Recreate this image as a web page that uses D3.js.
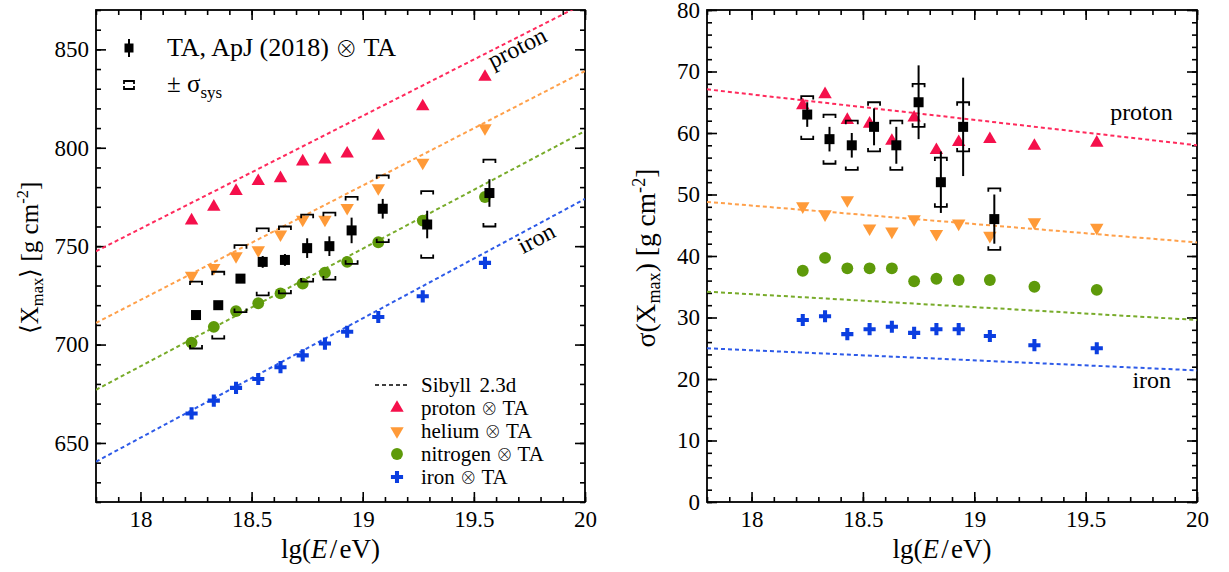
<!DOCTYPE html>
<html lang="en">
<head>
<meta charset="utf-8" />
<title>Xmax moments vs energy</title>
<script src="https://cdn.jsdelivr.net/npm/d3@7"></script>
<style>
body{ margin:0; background:#fff; }
</style>
</head>
<body>
<svg id="chart" width="1229" height="572"></svg>
<script>
// energy bins (simulated sets and TA data are slightly shifted)
const lgE = [18.23, 18.33, 18.43, 18.53, 18.63, 18.73, 18.83, 18.93, 19.07, 19.27, 19.55];
const lgE_TA = [18.25, 18.35, 18.45, 18.55, 18.65, 18.75, 18.85, 18.95, 19.09, 19.29, 19.57];

// <Xmax>
const protonMean   = [763, 770, 778, 783, 784.5, 793, 794, 797, 806, 821, 836];
const heliumMean   = [735, 739, 745, 748, 756, 763.5, 763.5, 769.5, 779.5, 792.5, 810];
const nitrogenMean = [701, 709, 717, 721, 726, 731, 736.5, 742, 752, 763, 775];
const ironMean     = [665, 671.5, 678, 682.5, 688.5, 694.5, 700.5, 706.5, 714, 724.5, 741.5];
const taMean       = [715, 720, 733.5, 742, 743, 749, 750, 758, 769, 761, 777];
const taMeanStat   = [2, 2, 2, 3, 3, 5, 5, 6.5, 5, 7, 7];
const taMeanSys    = [17, 17, 17, 17, 17, 17, 17, 17, 17, 17, 17];

// sigma(Xmax)
const protonSigma   = [64.5, 66.3, 62.1, 61.5, 58.7, 62.5, 57.2, 58.5, 59.0, 57.9, 58.4];
const heliumSigma   = [48.1, 46.8, 49.1, 44.5, 44.0, 46.0, 43.6, 45.3, 43.3, 45.5, 44.6];
const nitrogenSigma = [37.6, 39.7, 38.0, 38.0, 38.0, 35.9, 36.3, 36.1, 36.1, 35.0, 34.5];
const ironSigma     = [29.6, 30.2, 27.3, 28.1, 28.5, 27.5, 28.1, 28.1, 27.0, 25.5, 25.0];
const taSigma       = [63, 59, 58, 61, 58, 65, 52, 61, 46];
const taSigmaStat   = [2, 2, 2, 3, 3, 6, 5, 8, 4];
const taSigmaSysUp  = [3, 4, 4, 4, 4, 3, 4, 4, 5];
const taSigmaSysLo  = [4, 4, 4, 4, 4, 4, 4, 4, 5];

// Sibyll 2.3d expectations at the edges of the energy range
const modelE = [17.8, 20];
const sibyllMean  = {proton: [747.4, 873.5], helium: [711, 839], nitrogen: [677, 808.5], iron: [640.5, 774]};
const sibyllSigma = {proton: [67.1, 58.0], helium: [48.8, 42.2], nitrogen: [34.2, 29.6], iron: [25.0, 21.4]};

const primaries = ['proton', 'helium', 'nitrogen', 'iron'];
const colors = {proton: '#f5104b', helium: '#ff9a38', nitrogen: '#5e9a0a', iron: '#0b3ee0'};
const lineColors = {proton: '#ff2a5c', helium: '#ffa04a', nitrogen: '#78ab2a', iron: '#2d5ae8'};

const symbols = {
  proton:   d3.symbol().type(d3.symbolTriangle).size(78)(),
  helium:   d3.symbol().type(d3.symbolTriangle).size(78)(),
  nitrogen: d3.symbol().type(d3.symbolCircle).size(110)(),
  iron:     d3.symbol().type(d3.symbolCross).size(82)()
};
const rot = {proton: 0, helium: 180, nitrogen: 0, iron: 0};

const svg = d3.select('#chart');

function drawPanel(opt){
  const x = d3.scaleLinear().domain([17.8, 20]).range([opt.left, opt.right]);
  const y = d3.scaleLinear().domain(opt.yDomain).range([opt.bottom, opt.top]);
  const g = svg.append('g');

  g.append('clipPath').attr('id', opt.id + '-clip')
    .append('rect')
      .attr('x', opt.left).attr('y', opt.top)
      .attr('width', opt.right - opt.left).attr('height', opt.bottom - opt.top);

  // axes: majors with labels, minors without, mirrored on top / right
  const xMajor = [18, 18.5, 19, 19.5, 20];
  const xMinor = d3.range(17.8, 20.001, 0.1).map(v => +v.toFixed(1));
  const yMinor = d3.range(opt.yDomain[0], opt.yDomain[1] + 0.001, opt.yMinorStep);

  const fmt = d => d3.format('~g')(d);
  g.append('g').attr('transform', `translate(0,${opt.bottom})`)
    .call(d3.axisBottom(x).tickValues(xMajor).tickSize(-10).tickPadding(9).tickFormat(fmt));
  g.append('g').attr('transform', `translate(0,${opt.bottom})`)
    .call(d3.axisBottom(x).tickValues(xMinor).tickSize(-5).tickFormat(''));
  g.append('g').attr('transform', `translate(0,${opt.top})`)
    .call(d3.axisTop(x).tickValues(xMajor).tickSize(-10).tickFormat(''));
  g.append('g').attr('transform', `translate(0,${opt.top})`)
    .call(d3.axisTop(x).tickValues(xMinor).tickSize(-5).tickFormat(''));

  g.append('g').attr('transform', `translate(${opt.left},0)`)
    .call(d3.axisLeft(y).tickValues(opt.yMajor).tickSizeInner(-10).tickPadding(7).tickFormat(fmt));
  g.append('g').attr('transform', `translate(${opt.left},0)`)
    .call(d3.axisLeft(y).tickValues(yMinor).tickSize(-5).tickFormat(''));
  g.append('g').attr('transform', `translate(${opt.right},0)`)
    .call(d3.axisRight(y).tickValues(opt.yMajor).tickSize(-10).tickFormat(''));
  g.append('g').attr('transform', `translate(${opt.right},0)`)
    .call(d3.axisRight(y).tickValues(yMinor).tickSize(-5).tickFormat(''));

  g.selectAll('.domain').remove();
  g.selectAll('.tick line').attr('stroke', '#000').attr('stroke-width', 1.6);
  g.selectAll('.tick text').attr('font-size', 23);

  g.append('rect')
    .attr('x', opt.left).attr('y', opt.top)
    .attr('width', opt.right - opt.left).attr('height', opt.bottom - opt.top)
    .attr('fill', 'none').attr('stroke', '#000').attr('stroke-width', 1.8);

  // Sibyll dashed lines
  const plot = g.append('g').attr('clip-path', `url(#${opt.id}-clip)`);
  const line = d3.line().x(d => x(d[0])).y(d => y(d[1]));
  primaries.forEach(p => {
    plot.append('path')
      .attr('d', line(modelE.map((e, i) => [e, opt.model[p][i]])))
      .attr('fill', 'none')
      .attr('stroke', lineColors[p])
      .attr('stroke-width', 2)
      .attr('stroke-dasharray', '4,3');
  });

  // simulated TA sets
  primaries.forEach(p => {
    plot.selectAll(null)
      .data(opt.sim[p])
      .enter().append('path')
        .attr('d', symbols[p])
        .attr('fill', colors[p])
        .attr('transform', (d, i) => `translate(${x(lgE[i])},${y(d)}) rotate(${rot[p]})`);
  });

  // TA data: systematics brackets, stat bars, squares
  const bw = 6, bt = 3.5;
  plot.selectAll(null)
    .data(opt.ta)
    .enter().append('path')
      .attr('d', (d, i) => {
        const cx = x(lgE_TA[i]), yt = y(d + opt.sysUp[i]), yb = y(d - opt.sysLo[i]);
        return `M${cx - bw},${yt + bt}V${yt}H${cx + bw}V${yt + bt}` +
               `M${cx - bw},${yb - bt}V${yb}H${cx + bw}V${yb - bt}`;
      })
      .attr('fill', 'none').attr('stroke', '#000').attr('stroke-width', 1.8);

  plot.selectAll(null)
    .data(opt.ta)
    .enter().append('line')
      .attr('x1', (d, i) => x(lgE_TA[i])).attr('x2', (d, i) => x(lgE_TA[i]))
      .attr('y1', (d, i) => y(d + opt.stat[i])).attr('y2', (d, i) => y(d - opt.stat[i]))
      .attr('stroke', '#000').attr('stroke-width', 2);

  plot.selectAll(null)
    .data(opt.ta)
    .enter().append('rect')
      .attr('x', (d, i) => x(lgE_TA[i]) - 5).attr('y', d => y(d) - 5)
      .attr('width', 10).attr('height', 10)
      .attr('fill', '#000');

  // axis titles
  const xt = g.append('text')
    .attr('x', (opt.left + opt.right) / 2 - 10).attr('y', 558)
    .attr('text-anchor', 'middle').attr('font-size', 27);
  xt.append('tspan').text('lg(');
  xt.append('tspan').attr('font-style', 'italic').text('E');
  xt.append('tspan').text('\u200A/\u200AeV)');

  const yt = g.append('text')
    .attr('transform', `translate(${opt.yTitleX},258) rotate(-90)`)
    .attr('text-anchor', 'middle').attr('font-size', opt.yTitleSize);
  yt.append('tspan').text(opt.yTitlePre + 'X');
  yt.append('tspan').attr('font-size', opt.yTitleSize * 0.66).attr('dy', 5).text('max');
  yt.append('tspan').attr('dy', -5).text(opt.yTitlePost + ' [g cm');
  yt.append('tspan').attr('font-size', opt.yTitleSize * 0.66).attr('dy', -10).text('-2');
  yt.append('tspan').attr('dy', 10).text(']');

  return {x: x, y: y, g: g};
}

const left = drawPanel({
  id: 'mean', left: 96, right: 585, top: 10, bottom: 502,
  yDomain: [620, 870], yMajor: [650, 700, 750, 800, 850], yMinorStep: 10,
  model: sibyllMean,
  sim: {proton: protonMean, helium: heliumMean, nitrogen: nitrogenMean, iron: ironMean},
  ta: taMean, stat: taMeanStat, sysUp: taMeanSys, sysLo: taMeanSys,
  yTitleX: 38, yTitleSize: 25, yTitlePre: '\u27E8', yTitlePost: '\u27E9'
});

const right = drawPanel({
  id: 'sigma', left: 707, right: 1197, top: 10, bottom: 502,
  yDomain: [0, 80], yMajor: [0, 10, 20, 30, 40, 50, 60, 70, 80], yMinorStep: 2,
  model: sibyllSigma,
  sim: {proton: protonSigma, helium: heliumSigma, nitrogen: nitrogenSigma, iron: ironSigma},
  ta: taSigma, stat: taSigmaStat, sysUp: taSigmaSysUp, sysLo: taSigmaSysLo,
  yTitleX: 655, yTitleSize: 27.5, yTitlePre: '\u03C3(', yTitlePost: ')'
});

// line labels
function modelAt(m, e){ return m[0] + (m[1] - m[0]) * (e - modelE[0]) / (modelE[1] - modelE[0]); }
function slopeAngle(p, m){
  const dy = p.y(m[1]) - p.y(m[0]), dx = p.x(modelE[1]) - p.x(modelE[0]);
  return Math.atan2(dy, dx) * 180 / Math.PI;
}
[['proton', 19.55, 17], ['iron', 19.68, 19.5]].forEach(([p, e, off]) => {
  const m = sibyllMean[p];
  left.g.append('text')
    .attr('transform', `translate(${left.x(e)},${left.y(modelAt(m, e))}) rotate(${slopeAngle(left, m)})`)
    .attr('y', off).attr('font-size', 24).text(p);
});
right.g.append('text')
  .attr('x', right.x(19.61)).attr('y', right.y(modelAt(sibyllSigma.proton, 19.61)) - 15)
  .attr('font-size', 24).text('proton');
right.g.append('text')
  .attr('x', right.x(19.71)).attr('y', right.y(modelAt(sibyllSigma.iron, 19.71)) + 21)
  .attr('font-size', 24).text('iron');

// "a ⊗ TA" with a thin, wide circled-times glyph
function otimes(sel, before, size){
  sel.append('tspan').text(before + ' ');
  sel.append('tspan').attr('class', 'otimes').attr('font-size', size).text('\u2297');
  sel.append('tspan').text(' TA');
}

// legend: TA data
const lg = left.g.append('g');
lg.append('line').attr('x1', 129).attr('x2', 129).attr('y1', 39).attr('y2', 57)
  .attr('stroke', '#000').attr('stroke-width', 2);
lg.append('rect').attr('x', 124.5).attr('y', 43.5).attr('width', 9).attr('height', 9).attr('fill', '#000');
otimes(lg.append('text').attr('x', 167).attr('y', 56).attr('font-size', 26), 'TA, ApJ (2018)', 22);
lg.append('path').attr('d', 'M124,84V81H134V84M124,86V89H134V86')
  .attr('fill', 'none').attr('stroke', '#000').attr('stroke-width', 1.8);
const sl = lg.append('text').attr('x', 167).attr('y', 92).attr('font-size', 25);
sl.append('tspan').text('\u00B1 \u03C3');
sl.append('tspan').attr('font-size', 17).attr('dy', 6).text('sys');

// legend: model and simulated sets
const lb = left.g.append('g');
lb.append('line').attr('x1', 375).attr('x2', 410).attr('y1', 385).attr('y2', 385)
  .attr('stroke', '#000').attr('stroke-width', 1.6).attr('stroke-dasharray', '4,3');
lb.append('text').attr('x', 421).attr('y', 392).attr('font-size', 21).text('Sibyll\u2009\u20092.3d');
primaries.forEach((p, i) => {
  const yy = 408 + i * 23;
  lb.append('path').attr('d', symbols[p]).attr('fill', colors[p])
    .attr('transform', `translate(397,${yy}) rotate(${rot[p]})`);
  otimes(lb.append('text').attr('x', 421).attr('y', yy + 7).attr('font-size', 21), p, 16.5);
});

// Times-like face everywhere (inline style so the axis attributes don't win)
svg.selectAll('text').style('font-family', '"Liberation Serif"').style('fill', '#000');
svg.selectAll('.otimes').style('font-family', '"Noto Serif CJK SC", "Liberation Serif"');
</script>
</body>
</html>
